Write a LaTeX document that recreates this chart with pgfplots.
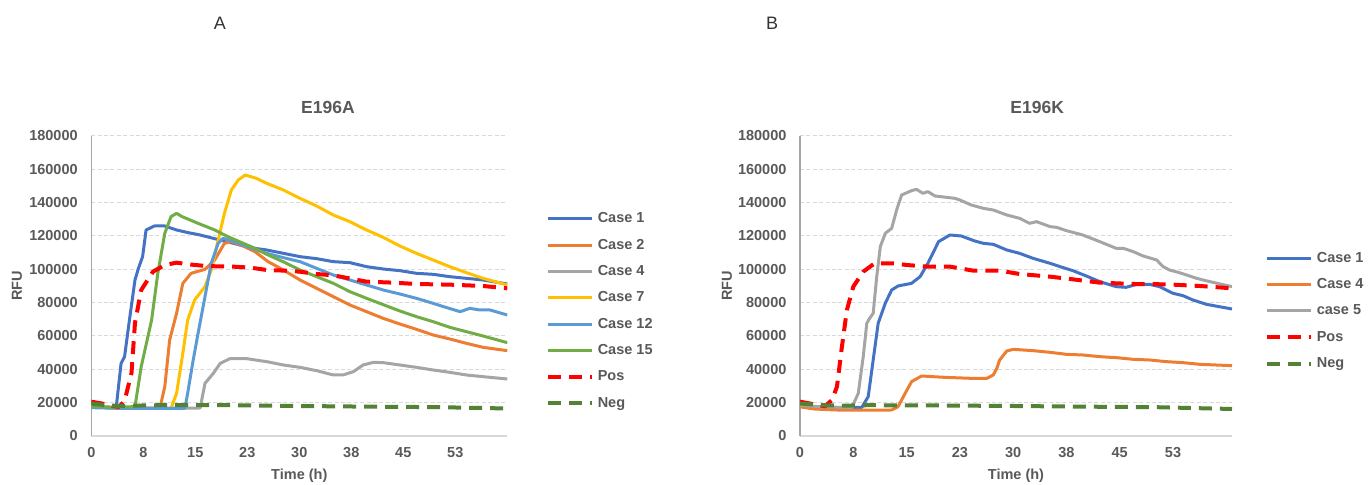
\documentclass[border=0pt]{standalone}
\usepackage{fontspec}
\setmainfont{Liberation Sans}
\usepackage{pgfplots}
\pgfplotsset{compat=1.18}
\definecolor{cA}{HTML}{4472C4}
\definecolor{cB}{HTML}{ED7D31}
\definecolor{cC}{HTML}{A5A5A5}
\definecolor{cD}{HTML}{FFC000}
\definecolor{cE}{HTML}{5B9BD5}
\definecolor{cF}{HTML}{70AD47}
\definecolor{cPos}{HTML}{FF0000}
\definecolor{cNeg}{HTML}{548235}
\definecolor{txt}{HTML}{595959}
\definecolor{gridc}{HTML}{D9D9D9}
\definecolor{axc}{HTML}{A6A6A6}
\pgfplotsset{
  mystyle/.style={
    scale only axis, height=150pt,
    ymin=0, ymax=180000, xmin=0,
    axis x line=bottom, axis y line=left,
    axis line style={-, draw=axc, line width=0.7pt},
    x axis line style={draw=gridc},
    major tick length=0pt,
    ytick={0,20000,...,180000},
    xtick={0,7.5,15,22.5,30,37.5,45,52.5},
    xticklabels={0,8,15,23,30,38,45,53},
    scaled y ticks=false,
    /pgf/number format/.cd, fixed, 1000 sep={}, assume math mode=true, /pgfplots/.cd,
    ymajorgrids, grid style={gridc, dash pattern=on 2pt off 1.2pt, line width=0.5pt},
    tick label style={font=\fontsize{7.25}{8}\selectfont\bfseries, text=txt, inner sep=0pt},
    yticklabel style={anchor=east, xshift=-6.6pt},
    xticklabel style={anchor=center, yshift=-8.5pt},
    xlabel={Time (h)}, ylabel={RFU},
    label style={font=\fontsize{7.25}{8}\selectfont\bfseries, text=txt},
    xlabel style={at={(axis description cs:0.5,-0.1333)}, anchor=center},
    title style={font=\fontsize{8.75}{10}\selectfont\bfseries, text=txt, anchor=center, yshift=-6pt},
    legend style={draw=none, fill=none, inner sep=0pt, anchor=west,
      font=\fontsize{7.25}{8}\selectfont\bfseries, text=txt,
      nodes={inner sep=0pt, text height=5.5pt, text depth=1.5pt},
      row sep=6.15pt,
      /tikz/every odd column/.append style={column sep=2pt}},
    legend cell align=left,
    legend image code/.code={\draw[##1] (0pt,0pt) -- (22pt,0pt);},
    every axis plot/.append style={line join=round, line cap=butt},
  },
  sol/.style={line width=1.5pt},
  dsh/.style={line width=2pt, dash pattern=on 6.5pt off 4pt},
}
\begin{document}
\begin{tikzpicture}
\useasboundingbox (0,0) rectangle (685.5pt,242.5pt);
\node[font=\fontsize{9}{10}\selectfont, text=black!80] at (110pt,231pt) {A};
\node[font=\fontsize{9}{10}\selectfont, text=black!80] at (386pt,231pt) {B};
\begin{axis}[mystyle, at={(45.65pt,24.5pt)}, anchor=south west, width=208pt, xmax=60,
  title={E196A}, title style={at={(axis description cs:0.569,1.0967)}},
  ylabel style={at={(axis description cs:-0.179,0.5)}, anchor=center},
  legend style={at={(axis description cs:1.0915,0.4167)}}]
\addplot[sol, cA] coordinates {(0,17800) (1,17500) (2,17200) (3,17000) (3.6,17500) (4.3,43600) (4.8,47600) (5.5,69600) (6.3,93600) (6.8,100600) (7.4,107600) (7.9,123600) (9.1,126000) (10.6,126000) (12.3,123600) (14,122000) (15.7,120600) (17.6,118600) (20.5,115600) (22.9,113000) (25.3,111600) (27.7,109600) (30.1,107600) (32.5,106400) (34.9,104600) (37.3,104000) (39.7,101600) (42.1,100200) (44.5,99200) (46.9,97600) (49.3,97000) (51.7,95600) (54.1,94600) (56.5,93600) (60,91200)};
\addlegendentry{Case 1}
\addplot[sol, cB] coordinates {(0,17500) (3,16800) (6,16500) (9.9,16800) (10.6,29600) (11.3,57600) (12.3,73600) (13.2,91600) (14.4,97600) (16.4,100000) (17.8,105600) (19.2,115600) (20.2,116600) (21.9,114000) (23.6,110600) (25.5,104600) (27.7,99600) (30.1,93600) (32.5,88600) (34.9,83600) (37.3,78600) (39.7,74600) (42.1,70600) (44.5,67200) (46.9,64000) (49.3,60600) (51.7,58200) (54.1,55600) (56.5,53200) (60,51200)};
\addlegendentry{Case 2}
\addplot[sol, cC] coordinates {(0,17500) (5,16800) (10,16600) (15.7,16800) (16.4,31600) (17.6,37600) (18.6,43600) (20,46400) (22.4,46400) (25.3,44600) (27.7,42600) (30.1,41200) (32.5,39200) (34.9,36600) (36.3,36600) (37.8,38600) (39.2,42600) (40.7,44200) (42.1,44000) (44.5,42600) (46.9,41200) (49.3,39600) (51.7,38200) (54.1,36600) (56.5,35600) (60,34200)};
\addlegendentry{Case 4}
\addplot[sol, cD] coordinates {(0,17500) (5,16500) (11.5,16600) (12.3,25600) (13.2,49600) (13.9,69600) (14.9,81600) (16.4,89600) (17.3,99600) (18.3,117600) (19.2,133600) (20.2,147600) (21.2,153600) (22.2,156600) (23.8,154600) (25.3,151600) (27.7,147600) (30.1,142600) (32.5,138000) (34.9,132600) (37.3,128600) (39.7,123600) (42.1,119200) (44.5,114000) (46.9,109600) (49.3,105600) (51.7,101600) (54.1,98000) (56.5,94600) (60,90600)};
\addlegendentry{Case 7}
\addplot[sol, cE] coordinates {(0,17000) (5,16500) (13.5,16600) (13.9,25600) (14.7,45600) (15.4,61600) (16.4,83600) (17.3,103600) (18.3,115600) (19,118600) (20.6,116600) (22.5,113600) (25.3,109600) (27.7,107000) (30.1,104600) (32.5,100600) (34.9,96600) (37.3,93600) (39.7,90600) (42.1,87600) (44.5,85200) (46.9,82600) (49.3,79600) (50.8,77600) (53.2,74600) (54.6,76600) (56,75600) (57.5,75600) (60,72600)};
\addlegendentry{Case 12}
\addplot[sol, cF] coordinates {(0,18000) (3,17300) (6.3,17600) (7.2,41600) (8.7,69600) (9.6,97800) (10.6,121600) (11.5,131600) (12.3,133600) (13.1,131600) (15.4,127600) (17.8,123600) (19.7,119600) (23.6,112600) (25.3,109000) (27.7,104500) (30.1,99600) (32.5,95600) (34.9,91600) (37.3,86600) (39.7,82600) (42.1,78800) (44.5,75000) (46.9,71600) (49.3,68600) (51.7,65200) (54.1,62600) (56.5,60000) (60,56000)};
\addlegendentry{Case 15}
\addplot[dsh, cPos] coordinates {(0,20600) (1.5,19500) (3,18000) (4,17500) (4.8,21000) (5.8,37800) (6.3,67800) (7.2,87600) (8.9,98600) (10.6,102600) (12.3,104000) (14,103000) (16,102200) (18,101800) (20.5,101600) (23,101000) (25.3,99600) (28,99200) (30,98600) (32.5,97200) (34.9,96400) (37.3,94500) (39.7,92600) (43.6,92000) (46.9,91200) (51.7,90800) (56.5,90000) (60,88600)};
\addlegendentry{Pos}
\addplot[dsh, cNeg] coordinates {(0,19500) (2,18500) (4,18000) (6,18200) (10,18500) (20,18500) (30,18000) (40,17600) (50,17300) (60,16500)};
\addlegendentry{Neg}
\end{axis}
\begin{axis}[mystyle, at={(400pt,24.5pt)}, anchor=south west, width=216pt, xmax=60.8,
  title={E196K}, title style={at={(axis description cs:0.549,1.0967)}},
  ylabel style={at={(axis description cs:-0.169,0.5)}, anchor=center},
  legend style={at={(axis description cs:1.0750,0.4167)}}]
\addplot[sol, cA] coordinates {(0,18000) (3,17200) (6,17000) (8.7,17200) (9.6,23600) (10.3,45600) (11,67600) (12,79600) (12.9,87600) (13.8,90000) (15.7,91600) (16.9,95600) (18,103600) (19.5,116600) (21.1,120600) (22.7,120000) (24.6,117000) (25.8,115600) (27.2,115000) (29.1,111600) (30.9,109600) (32.8,106600) (35.2,103600) (36.6,101600) (38.4,99200) (40.3,96000) (42.2,92600) (44.5,89600) (45.9,89200) (47.4,91000) (49.2,91000) (50.6,89600) (52.5,85600) (53.9,84200) (55.3,81600) (57.2,79000) (60.8,76200)};
\addlegendentry{Case 1}
\addplot[sol, cB] coordinates {(0,17500) (2,16200) (5,15600) (10,15500) (12.9,15600) (13.8,17600) (14.8,25600) (15.7,32600) (17.1,36000) (20.3,35200) (24.1,34600) (26.3,34600) (27.2,36600) (27.7,40600) (28.1,45600) (29.1,51000) (30,52000) (31.4,51600) (32.8,51200) (35.2,50200) (37.5,49000) (39.8,48600) (42.2,47600) (44.5,47000) (46.9,46000) (49.2,45600) (51.6,44600) (53.9,44000) (56.3,43000) (60.8,42200)};
\addlegendentry{Case 4}
\addplot[sol, cC] coordinates {(0,18500) (3,17500) (7.3,17000) (8.2,25600) (8.9,47600) (9.4,67600) (9.8,70600) (10.3,73600) (10.8,95600) (11.3,113600) (12,121600) (12.9,124600) (13.6,135600) (14.3,144600) (15.7,147200) (16.4,148000) (17.3,145600) (18,146600) (19,144000) (21.8,142600) (22.5,141600) (24.1,138600) (25.8,136600) (27.2,135600) (29.1,132600) (30.9,130600) (32.3,127600) (33.3,128600) (35.2,125600) (36.1,125200) (37.5,123200) (39.8,120600) (42.2,116600) (44.5,112600) (45.5,112600) (46.9,110600) (48.3,108000) (50.2,105600) (51.1,101600) (52,99600) (53.4,98000) (54.4,96600) (55.8,94600) (57.7,92600) (60.8,89600)};
\addlegendentry{case 5}
\addplot[dsh, cPos] coordinates {(0,20600) (2,19000) (3.5,17800) (4.5,21600) (5.2,29600) (5.9,53600) (6.6,75600) (7.5,89600) (8.9,98600) (10.5,103600) (13.1,103600) (15,102600) (18,101600) (21.1,101600) (24.4,99200) (28.1,99200) (30.9,97200) (35.2,95600) (38.4,94000) (42.2,92000) (46.9,91200) (51.6,91000) (56.3,90000) (60.8,88600)};
\addlegendentry{Pos}
\addplot[dsh, cNeg] coordinates {(0,19500) (3,18500) (6,18200) (10,18500) (14,18300) (20,18300) (30,18000) (40,17600) (50,17300) (60.8,16200)};
\addlegendentry{Neg}
\end{axis}
\end{tikzpicture}
\end{document}
